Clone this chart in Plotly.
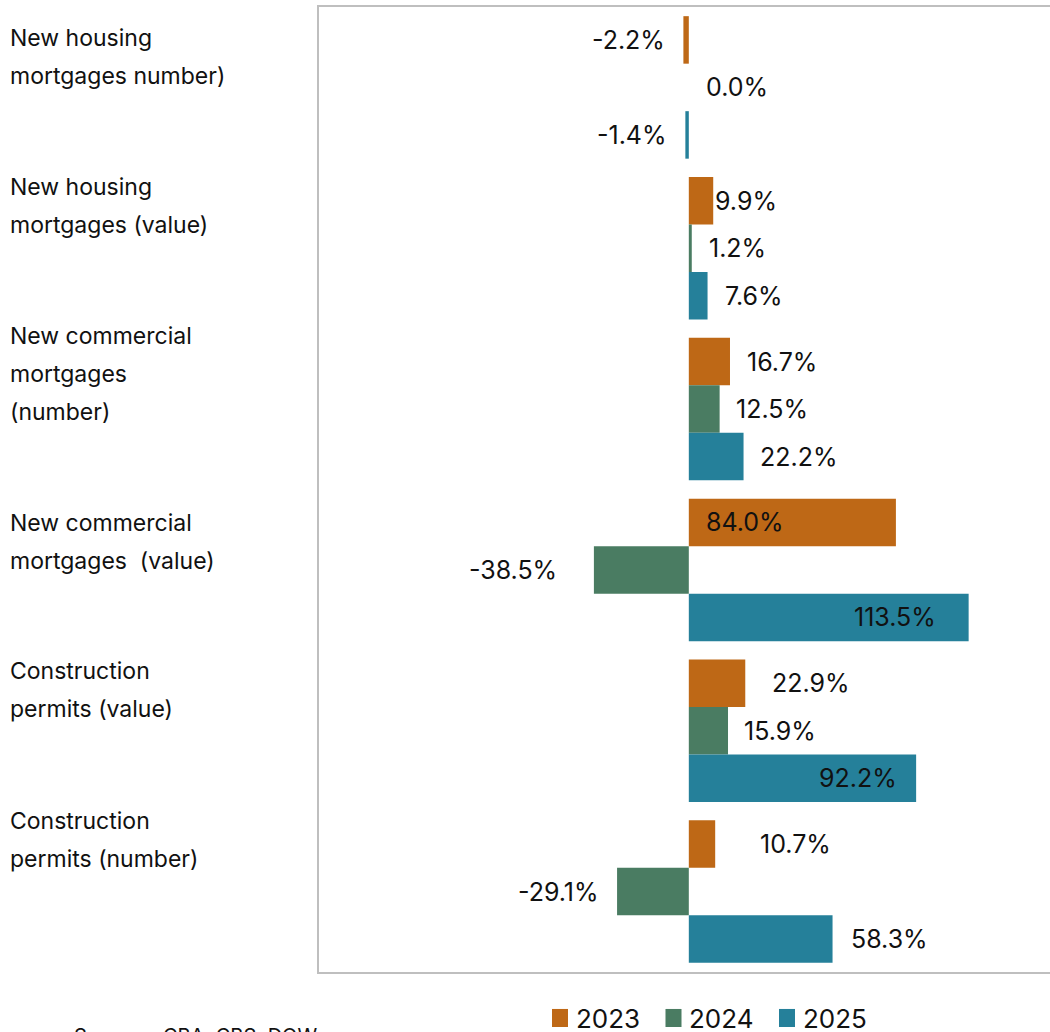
import plotly.graph_objects as go

# Categories (top to bottom) and year-on-year change, %
categories = [
    "New housing<br>mortgages number)",
    "New housing<br>mortgages (value)",
    "New commercial<br>mortgages<br>(number)",
    "New commercial<br>mortgages  (value)",
    "Construction<br>permits (value)",
    "Construction<br>permits (number)",
]
years = ["2023", "2024", "2025"]
change_2023 = [-2.2, 9.9, 16.7, 84.0, 22.9, 10.7]
change_2024 = [0.0, 1.2, 12.5, -38.5, 15.9, -29.1]
change_2025 = [-1.4, 7.6, 22.2, 113.5, 92.2, 58.3]
series = [change_2023, change_2024, change_2025]

colors = ["#BE6816", "#4A7C62", "#25809A"]
FONT = "Inter, Noto Sans, sans-serif"
TEXT = "#111111"

# label placement: (mode, pixel gap) for each series / category
label_style = [
    [("out", 16), ("out", 0), ("out", 15), ("in_start", 15), ("out", 25), ("out", 43)],
    [("out", 15), ("out", 15), ("out", 14), ("out", 35), ("out", 14), ("out", 16)],
    [("out", 16), ("out", 15), ("out", 14), ("in_end", 31), ("in_end", 17), ("out", 16)],
]
group_shift = [47.5, 0, -47.5]          # vertical offset of each bar in its group
cat_first_line_shift = [49, 61, 73, 47, 60, 71]
cat_line_step = 38

fig = go.Figure()
for name, vals, col in zip(years, series, colors):
    fig.add_trace(go.Bar(
        y=categories, x=vals, name=name, orientation="h",
        marker=dict(color=col, line=dict(width=0)),
        showlegend=False, hoverinfo="x+name",
    ))

annotations = []
for si, vals in enumerate(series):
    for ci, v in enumerate(vals):
        mode, gap = label_style[si][ci]
        if mode == "out":
            x, anchor, shift = v, ("left" if v >= 0 else "right"), (gap if v >= 0 else -gap)
        elif mode == "in_start":
            x, anchor, shift = 0, "left", gap
        else:
            x, anchor, shift = v, "right", -gap
        annotations.append(dict(
            x=x, y=categories[ci], xref="x", yref="y", text=f"{v:.1f}%",
            showarrow=False, xanchor=anchor, yanchor="middle",
            xshift=shift, yshift=group_shift[si],
            font=dict(family=FONT, size=25, color=TEXT),
        ))

# category labels, one annotation per line
for ci, cat in enumerate(categories):
    for li, line in enumerate(cat.split("<br>")):
        annotations.append(dict(
            x=-0.4254, y=cat, xref="paper", yref="y", text=line.replace("  ", "&nbsp; "),
            showarrow=False, xanchor="left", yanchor="middle", align="left",
            yshift=cat_first_line_shift[ci] - li * cat_line_step,
            font=dict(family=FONT, size=23, color=TEXT),
        ))

annotations.append(dict(
    x=-0.338, y=-0.052, xref="paper", yref="paper", text="Sources: CBA, CBS, DOW",
    showarrow=False, xanchor="left", yanchor="top",
    font=dict(family=FONT, size=20, color=TEXT),
))

# legend below the plot: colour swatch + year
shapes = []
legend_x0, legend_step = 0.3187, 0.1553
for i, (name, col) in enumerate(zip(years, colors)):
    x0 = legend_x0 + i * legend_step
    shapes.append(dict(
        type="rect", xref="paper", yref="paper",
        x0=x0, x1=x0 + 0.0219, y0=-0.057, y1=-0.0383,
        fillcolor=col, line=dict(width=0),
    ))
    annotations.append(dict(
        x=x0 + 0.0301, y=-0.0477, xref="paper", yref="paper", text=name,
        showarrow=False, xanchor="left", yanchor="middle", height=26,
        font=dict(family=FONT, size=26, color=TEXT),
    ))

fig.update_layout(
    width=1050, height=1032,
    margin=dict(l=319, r=0, t=7, b=60, autoexpand=False),
    paper_bgcolor="white", plot_bgcolor="white",
    barmode="group", bargap=0.114, bargroupgap=0,
    annotations=annotations, shapes=shapes,
    showlegend=False,
    xaxis=dict(
        range=[-150, 146.5], showgrid=False, zeroline=False, showticklabels=False,
        ticks="", showline=True, mirror=True, linecolor="#BFBFBF", linewidth=2,
        fixedrange=True,
    ),
    yaxis=dict(
        range=[5.5, -0.5], showgrid=False, zeroline=False, showticklabels=False,
        ticks="", showline=True, mirror=False, linecolor="#BFBFBF", linewidth=2,
        fixedrange=True,
    ),
)

fig.write_html("out.html")
